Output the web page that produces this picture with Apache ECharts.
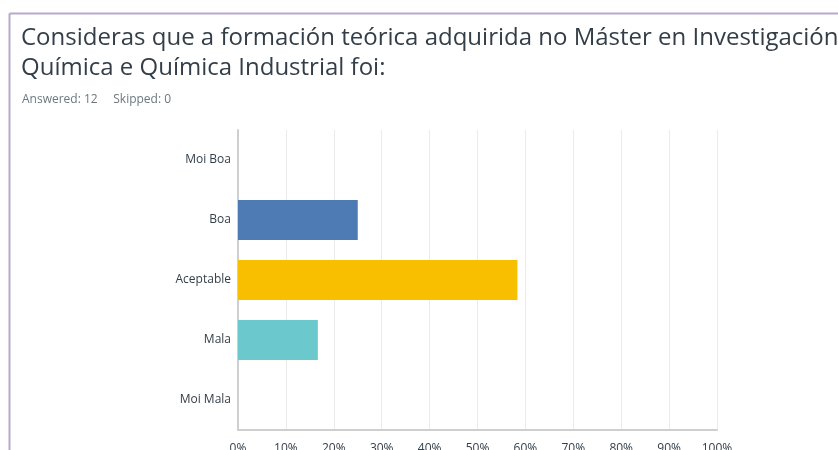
<!DOCTYPE html>
<html>
<head>
<meta charset="utf-8">
<script src="https://cdn.jsdelivr.net/npm/echarts@6/dist/echarts.min.js"></script>
<style>
  html, body { margin: 0; padding: 0; background: #fff; }
  #chart { width: 838px; height: 450px; }
</style>
</head>
<body>
<div id="chart"></div>
<script>
// respostas (12 contestadas)
const categories = ['Moi Boa', 'Boa', 'Aceptable', 'Mala', 'Moi Mala'];
const percents = [0, 25, 58.33, 16.67, 0];
const barColors = ['#4f7bb5', '#4f7bb5', '#f8be00', '#6bc8cd', '#b0a8c9'];
const xTicks = [0, 10, 20, 30, 40, 50, 60, 70, 80, 90, 100];

let myChart = echarts.init(document.getElementById('chart'));

let option = {
  animation: false,
  title: [
    {
      text: 'Consideras que a formación teórica adquirida no Máster en Investigación\nQuímica e Química Industrial foi:',
      left: 16,
      top: 18,
      textStyle: {
        fontFamily: 'Open Sans',
        fontWeight: 'normal',
        fontSize: 24,
        lineHeight: 30,
        color: '#333e48'
      }
    },
    {
      text: 'Answered: 12     Skipped: 0',
      left: 17,
      top: 89,
      textStyle: {
        fontFamily: 'Open Sans',
        fontWeight: 'normal',
        fontSize: 12,
        color: '#6b787f'
      }
    }
  ],
  graphic: [
    {
      type: 'line',
      shape: { x1: 9.5, y1: 13.5, x2: 838, y2: 13.5 },
      style: { stroke: '#b6a9c9', lineWidth: 2 }
    },
    {
      type: 'line',
      shape: { x1: 9.5, y1: 13.5, x2: 9.5, y2: 450 },
      style: { stroke: '#b6a9c9', lineWidth: 2 }
    }
  ],
  grid: {
    left: 238,
    top: 130,
    width: 479,
    height: 300,
    containLabel: false,
    outerBoundsMode: 'none'
  },
  xAxis: {
    type: 'value',
    min: 0,
    max: 100,
    interval: 10,
    axisLine: { show: true, lineStyle: { color: '#cfcfcf', width: 2 } },
    axisTick: { show: false },
    splitLine: { show: true, lineStyle: { color: '#ebebeb' } },
    axisLabel: {
      formatter: v => xTicks.includes(v) ? v + '%' : '',
      color: '#333e48',
      fontFamily: 'Open Sans',
      fontSize: 12,
      margin: 13
    }
  },
  yAxis: {
    type: 'category',
    inverse: true,
    data: categories,
    axisLine: { show: true, lineStyle: { color: '#cfcfcf', width: 2 } },
    axisTick: { show: false },
    axisLabel: {
      color: '#333e48',
      fontFamily: 'Open Sans',
      fontSize: 12,
      margin: 7
    }
  },
  series: [
    {
      type: 'bar',
      barWidth: 40,
      data: percents.map(function (v, i) {
        return { value: v, itemStyle: { color: barColors[i] } };
      })
    }
  ]
};

myChart.setOption(option);
</script>
</body>
</html>
